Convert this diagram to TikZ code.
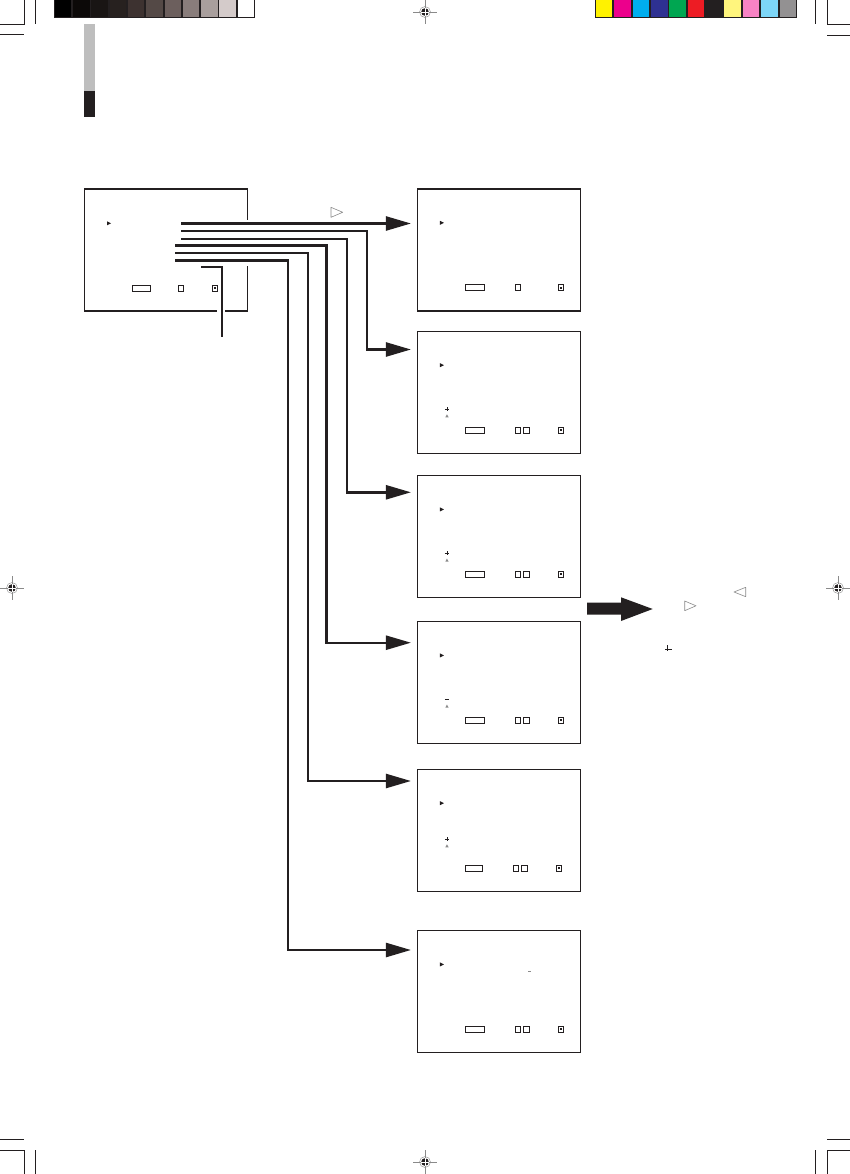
\documentclass[tikz,border=0pt]{standalone}
\usetikzlibrary{arrows.meta,positioning,calc}
\definecolor{ink}{HTML}{231F20}
\definecolor{tabgray}{HTML}{BEBEBE}
\definecolor{markgray}{HTML}{8A8A8A}
\tikzset{
  screen/.style={draw=ink,line width=1.3pt,fill=white,inner sep=0pt,
    minimum width=163pt,minimum height=122pt},
  feed/.style={draw=ink,line width=2.4pt},
  feedarrow/.style={feed,-{Triangle[length=25pt,width=14pt]},shorten >=6pt},
  gap/.style={draw=white,line width=4pt},
  btn/.style={draw=ink,line width=.9pt},
  hint/.style={draw=markgray,line width=.6pt,line join=round},
  crop/.style={draw=ink,line width=.5pt}
}
\begin{document}
\begin{tikzpicture}[x=1pt,y=-1pt]
  \useasboundingbox (0,0) rectangle (850,1174);
  \fill[white] (0,0) rectangle (850,1174);

  % printer marks
  \draw[crop] (24,0) -- (24,24) -- (0,24) (35,0) -- (35,24) (0,34) -- (24,34);
  \draw[crop] (815.7,0) -- (815.7,24) (827,0) -- (827,24) -- (850,24) (827,35) -- (850,35);
  \draw[crop] (0,1139.3) -- (24,1139.3) (0,1150) -- (24,1150) -- (24,1174) (35,1150) -- (35,1174);
  \draw[crop] (827,1139.3) -- (850,1139.3) (850,1150) -- (827,1150) -- (827,1174) (815.7,1150) -- (815.7,1174);
  \foreach \x/\y in {425/12,12/588,838/588,425/1162}{
    \draw[markgray,line width=.4pt] (\x-12,\y) -- (\x+12,\y) (\x,\y-12) -- (\x,\y+12);
    \draw[markgray,line width=.4pt] (\x,\y) circle (5.5pt);
    \fill[ink] (\x,\y) circle (3.8pt);
    \draw[white,line width=.7pt] (\x-3.8,\y) -- (\x+3.8,\y) (\x,\y-3.8) -- (\x,\y+3.8);
  }
  \fill[ink] (54,0) rectangle (255,17.7);
  \foreach \c [count=\i from 0] in {000000,0C0908,191514,27211F,3D3230,544946,6C5F5D,897D7B,A99F9D,D4CBCA,FFFFFF}{
    \definecolor{swatch}{HTML}{\c}
    \fill[swatch] ({54+\i*18.27+0.9},0) rectangle ({54+(\i+1)*18.27-0.9},16.8);
  }
  \fill[ink] (595,0) rectangle (797,17.7);
  \foreach \c [count=\i from 0] in {FFF200,EC008C,00AEEF,2E3192,00A651,ED1C24,231F20,FFF57D,F783C4,7DD6F7,939192}{
    \definecolor{swatch}{HTML}{\c}
    \fill[swatch] ({595+\i*18.36+0.9},0) rectangle ({595+(\i+1)*18.36-0.9},16.8);
  }
  \fill[tabgray] (84,24) rectangle (95,90.7);
  \fill[ink] (84,90.7) rectangle (95,117);

  % screens
  \node[screen] (menu) at (165.8,250) {};
  \node[screen,right=169pt of menu] (s1) {};
  \node[screen,below=19pt of s1] (s2) {};
  \node[screen,below=21pt of s2] (s3) {};
  \node[screen,below=22.7pt of s3] (s4) {};
  \node[screen,below=24.4pt of s4] (s5) {};
  \node[screen,below=38pt of s5] (s6) {};

  \draw[gap] (247.3,220) -- (247.3,266);
  \draw[gap] (216.5,311) -- (225,311);

  % menu contents
  \fill[ink] (107,221.3) -- (111,223.3) -- (107,225.3) -- cycle;
  \draw[btn] (132.3,285.5) rectangle (150.7,291.3);
  \draw[btn] (178.3,285.5) rectangle (183.5,291.3);
  \draw[btn] (212.3,285.5) rectangle (217.5,291.3);
  \fill[ink] (213.9,287.4) rectangle (215.9,289.4);

  \foreach \s/\d in {s1/0,s2/0,s3/0,s4/0,s5/-2,s6/0}{
    \begin{scope}[shift={(\s.north west)}]
      \fill[ink] (23,32.5) -- (27,34.5) -- (23,36.5) -- cycle;
      \draw[btn] (48.5,96.5) rectangle (67+\d,102.3);
      \draw[btn] (98.6+\d,96.5) rectangle (103.4+\d,102.3);
      \draw[btn] (141.8+\d,96.5) rectangle (146.6+\d,102.3);
      \fill[ink] (143.2+\d,98.4) rectangle (145.2+\d,100.4);
    \end{scope}
  }
  \foreach \s/\d in {s2/0,s3/0,s4/0,s5/-2,s6/0}{
    \draw[btn] ($(\s.north west)+(106.8pt+\d pt,-96.5pt)$) rectangle ++(5.2pt,-5.8pt);
  }
  \foreach \s/\h in {s2/78.3,s3/78.3,s4/78.3,s5/70.3}{
    \begin{scope}[shift={(\s.north west)}]
      \draw[ink,line width=.9pt] (28,\h) -- (32,\h);
      \fill[markgray] (28.4,\h+8.3) -- (30,\h+5.3) -- (31.6,\h+8.3) -- cycle;
    \end{scope}
  }
  \foreach \s/\h in {s2/78.3,s3/78.3,s5/70.3}{
    \draw[ink,line width=.9pt] ($(\s.north west)+(30pt,-\h pt+1.8pt)$) -- ++(0,-3.6pt);
  }
  \draw[markgray,line width=.6pt] ($(s6.north west)+(111.4pt,-41.3pt)$) -- ++(2.2pt,0);

  % feeds from the menu
  \coordinate (m1) at (181,223.5);
  \coordinate (m2) at (181,231);
  \coordinate (m3) at (181,239);
  \coordinate (m4) at (175,245.7);
  \coordinate (m5) at (175,252.7);
  \coordinate (m6) at (175,260.3);
  \coordinate (m7) at (201,267);
  \coordinate (k2) at (366.7,349.5);
  \coordinate (k3) at (347,492.3);
  \coordinate (k4) at (326.5,642.7);
  \coordinate (k5) at (308,781);
  \coordinate (k6) at (288,950);
  \coordinate (tail) at (221.7,337.3);

  \draw[feedarrow] (m1) -- (m1 -| s1.west);
  \draw[feedarrow] (m2) -| (k2) -- (k2 -| s2.west);
  \draw[feedarrow] (m3) -| (k3) -- (k3 -| s3.west);
  \draw[feedarrow] (m4) -| (k4) -- (k4 -| s4.west);
  \draw[feedarrow] (m5) -| (k5) -- (k5 -| s5.west);
  \draw[feedarrow] (m6) -| (k6) -- (k6 -| s6.west);
  \draw[feed,line width=2pt] (m7) -| (tail);

  % hints
  \draw[hint] (331,207.3) -- (342.7,212.3) -- (331,217.3) -- cycle;
  \fill[ink] (587,602.7) -- (621,602.7) -- (621,597.3) -- (652.7,609) -- (621,621)
    -- (621,614.7) -- (587,614.7) -- cycle;
  \draw[hint] (684.7,601) -- (696,605.8) -- (684.7,610.7) -- cycle;
  \draw[hint] (745.7,587.3) -- (734,592) -- (745.7,596.7) -- cycle;
  \draw[ink,line width=.8pt] (665,649.3) -- (672.3,649.3) (667.3,645.4) -- (667.3,651.2);
\end{tikzpicture}
\end{document}
